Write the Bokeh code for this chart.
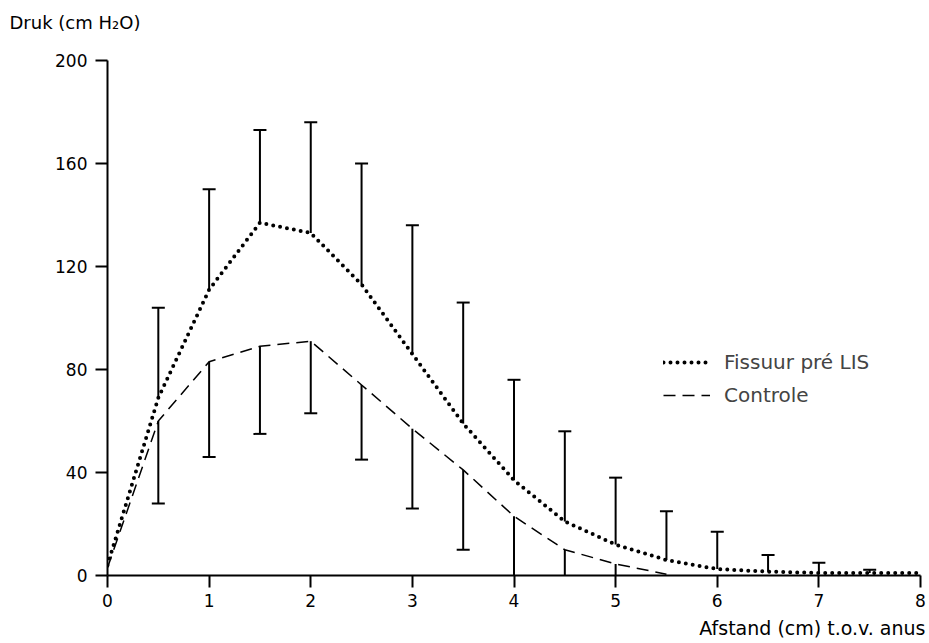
from bokeh.plotting import figure
from bokeh.models import Range1d, FixedTicker, Legend, LegendItem, Title
from bokeh.embed import file_html
from bokeh.resources import INLINE

# ---- data ----
x_fissuur = [0, 0.5, 1, 1.5, 2, 2.5, 3, 3.5, 4, 4.5, 5, 5.5, 6, 6.5, 7, 7.5, 8]
y_fissuur = [4, 69, 111, 137, 133, 113, 86, 59, 37, 21, 12, 6, 2.5, 1.5, 1, 1, 1]
x_fissuur_err = [0.5, 1, 1.5, 2, 2.5, 3, 3.5, 4, 4.5, 5, 5.5, 6, 6.5, 7, 7.5]
fissuur_upper = [104, 150, 173, 176, 160, 136, 106, 76, 56, 38, 25, 17, 8, 5, 2.2]

x_controle = [0, 0.5, 1, 1.5, 2, 2.5, 3, 3.5, 4, 4.5, 5, 5.5]
y_controle = [3, 60, 83, 89, 91, 74, 57, 41, 23, 10, 4.5, 0.5]
x_controle_err = [0.5, 1, 1.5, 2, 2.5, 3, 3.5, 4, 4.5, 5]
controle_lower = [28, 46, 55, 63, 45, 26, 10, 0, 0, 0]

x_ticks = [0, 1, 2, 3, 4, 5, 6, 7, 8]
y_ticks = [0, 40, 80, 120, 160, 200]

FONT = "DejaVu Sans"

# frame: x 0..8 over pixels 107..920, y 0..200 over pixels 575..60 (2.575 px/unit);
# the frame is extended up to pixel TOP_PX so that the title sits high, axis bounded at 200
TOP_PX = 36
y_end = 200 + (60 - TOP_PX) / 2.575

p = figure(width=929, height=643, x_range=Range1d(0, 8), y_range=Range1d(0, y_end),
           output_backend="svg", toolbar_location=None,
           min_border_left=107, min_border_right=9, min_border_top=TOP_PX,
           min_border_bottom=68)
p.outline_line_color = None
p.xgrid.visible = False
p.ygrid.visible = False
p.background_fill_color = "white"
p.border_fill_color = "white"

p.title.text = "Druk (cm H₂O)"
p.title.align = "left"
p.title.offset = -98
p.title.standoff = 8
p.title.text_font = FONT
p.title.text_font_size = "18px"
p.title.text_font_style = "normal"
p.title.text_color = "black"

for ax, ticks in ((p.xaxis, x_ticks), (p.yaxis, y_ticks)):
    ax.ticker = FixedTicker(ticks=ticks)
    ax.axis_line_width = 2
    ax.axis_line_color = "black"
    ax.major_tick_line_width = 2
    ax.major_tick_line_color = "black"
    ax.major_tick_out = 12
    ax.major_tick_in = 0
    ax.minor_tick_out = 0
    ax.minor_tick_in = 0
    ax.major_label_text_font = FONT
    ax.major_label_text_font_size = "17px"
    ax.major_label_text_color = "black"
p.xaxis.major_label_standoff = 6
p.yaxis.major_label_standoff = 8
p.yaxis.bounds = (0, 200)

p.add_layout(Title(text="Afstand (cm) t.o.v. anus", align="right", offset=-5,
                   standoff=10, text_font=FONT, text_font_size="19px",
                   text_font_style="normal", text_color="black"), "below")

# error bars
p.segment(x0=x_fissuur_err, y0=[y_fissuur[x_fissuur.index(x)] for x in x_fissuur_err],
          x1=x_fissuur_err, y1=fissuur_upper, line_color="black", line_width=2)
p.scatter(x=x_fissuur_err, y=fissuur_upper, marker="dash", size=13,
          line_color="black", line_width=2)

p.segment(x0=x_controle_err, y0=[y_controle[x_controle.index(x)] for x in x_controle_err],
          x1=x_controle_err, y1=controle_lower, line_color="black", line_width=2)
cap_x = [x for x, v in zip(x_controle_err, controle_lower) if v > 0]
cap_y = [v for v in controle_lower if v > 0]
p.scatter(x=cap_x, y=cap_y, marker="dash", size=13, line_color="black", line_width=2)

r1 = p.line(x_fissuur, y_fissuur, line_color="black", line_width=4,
            line_dash="0 7", line_cap="round")
r2 = p.line(x_controle, y_controle, line_color="black", line_width=1.5,
            line_dash="12 7")

legend = Legend(items=[LegendItem(label="Fissuur pré LIS", renderers=[r1]),
                       LegendItem(label="Controle", renderers=[r2])],
                location=(556, 168), glyph_width=47, glyph_height=18,
                label_standoff=14, label_text_font=FONT, label_text_font_size="20px",
                label_height=18, spacing=9, padding=0, margin=0,
                border_line_color=None, background_fill_alpha=0)
p.add_layout(legend)

open("out.html", "w").write(file_html(p, INLINE))
